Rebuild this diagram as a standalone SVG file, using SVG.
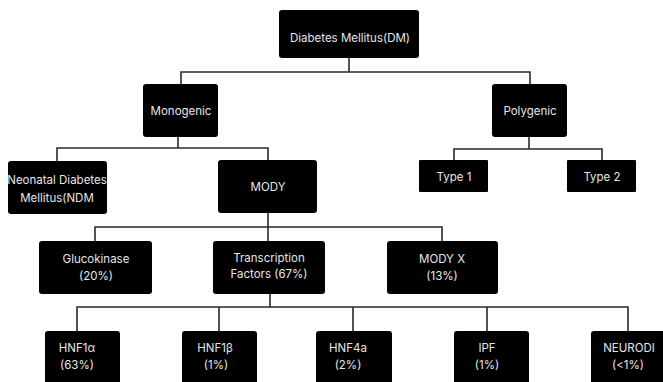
<svg xmlns="http://www.w3.org/2000/svg" width="663" height="382" viewBox="0 0 663 382">
  <style>
    .box { fill: #000; }
    .lbl { fill: #e6e6e6; font-family: Inter, "DejaVu Sans", sans-serif; font-size: 11.5px; text-anchor: middle; }
    .wire { fill: none; stroke: #2a2a2a; stroke-width: 1.6; }
  </style>
  <rect width="663" height="382" fill="#fff"/>

  <g id="connectors">
    <path class="wire" d="M349 58 V72 M181 84 V72 H530 V84"/>
    <path class="wire" d="M178 137 V148 M57 161 V148 H268 V160"/>
    <path class="wire" d="M529 137 V149 M454 160 V149 H602 V160"/>
    <path class="wire" d="M268 213 V227 M95 241 V227 H442 V241 M268 227 V241"/>
    <path class="wire" d="M270 294 V307 M77 331 V307 H628 V331 M219 307 V331 M353 307 V331 M487 307 V331"/>
  </g>

  <g id="dm">
    <rect class="box" x="279" y="10" width="140" height="48" rx="3"/>
    <text class="lbl" x="350" y="42">Diabetes Mellitus(DM)</text>
  </g>
  <g id="monogenic">
    <rect class="box" x="143" y="84" width="75" height="53" rx="3"/>
    <text class="lbl" x="181" y="115">Monogenic</text>
  </g>
  <g id="polygenic">
    <rect class="box" x="492" y="84" width="75" height="53" rx="3"/>
    <text class="lbl" x="530" y="115">Polygenic</text>
  </g>
  <g id="ndm">
    <rect class="box" x="8" y="161" width="99" height="53" rx="3"/>
    <text class="lbl" x="57" y="184">Neonatal Diabetes</text>
    <text class="lbl" x="57" y="202">Mellitus(NDM</text>
  </g>
  <g id="mody">
    <rect class="box" x="218" y="160" width="99" height="53" rx="3"/>
    <text class="lbl" x="268" y="191">MODY</text>
  </g>
  <g id="type1">
    <rect class="box" x="419" y="160" width="69" height="32" rx="1"/>
    <text class="lbl" x="454" y="181">Type 1</text>
  </g>
  <g id="type2">
    <rect class="box" x="567" y="160" width="69" height="32" rx="1"/>
    <text class="lbl" x="602" y="181">Type 2</text>
  </g>
  <g id="glucokinase">
    <rect class="box" x="39" y="241" width="113" height="53" rx="3"/>
    <text class="lbl" x="96" y="263">Glucokinase</text>
    <text class="lbl" x="96" y="280">(20%)</text>
  </g>
  <g id="transcription">
    <rect class="box" x="213" y="241" width="112" height="53" rx="3"/>
    <text class="lbl" x="269" y="262">Transcription</text>
    <text class="lbl" x="269" y="278">Factors (67%)</text>
  </g>
  <g id="mody-x">
    <rect class="box" x="387" y="241" width="111" height="53" rx="3"/>
    <text class="lbl" x="442" y="263">MODY X</text>
    <text class="lbl" x="442" y="280">(13%)</text>
  </g>
  <g id="hnf1a">
    <rect class="box" x="45" y="331" width="75" height="56" rx="3"/>
    <text class="lbl" x="77" y="352">HNF1α</text>
    <text class="lbl" x="77" y="369">(63%)</text>
  </g>
  <g id="hnf1b">
    <rect class="box" x="182" y="331" width="75" height="56" rx="3"/>
    <text class="lbl" x="215" y="352">HNF1β</text>
    <text class="lbl" x="216" y="369">(1%)</text>
  </g>
  <g id="hnf4a">
    <rect class="box" x="316" y="331" width="76" height="56" rx="3"/>
    <text class="lbl" x="348" y="352">HNF4a</text>
    <text class="lbl" x="348" y="369">(2%)</text>
  </g>
  <g id="ipf">
    <rect class="box" x="454" y="331" width="75" height="56" rx="3"/>
    <text class="lbl" x="487" y="352">IPF</text>
    <text class="lbl" x="487" y="369">(1%)</text>
  </g>
  <g id="neurodi">
    <rect class="box" x="591" y="331" width="76" height="56" rx="3"/>
    <text class="lbl" x="629" y="352">NEURODI</text>
    <text class="lbl" x="628" y="369">(&lt;1%)</text>
  </g>
</svg>
